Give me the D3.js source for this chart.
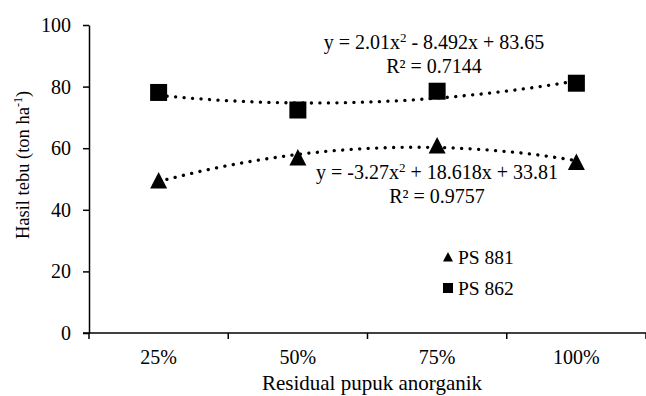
<!DOCTYPE html>
<html lang="en">
<head>
	<meta charset="utf-8">
	<title>Hasil tebu</title>
	<style>
		body { margin: 0; background: #fff; }
		.axis path, .axis line { stroke: #000; stroke-width: 1.5px; }
	</style>
</head>
<body>
	<svg></svg>
	<script src="https://d3js.org/d3.v7.min.js"></script>
	<script>
		(function() {

			var width = 646,
				height = 396;

			var font = "Liberation Serif";

			// data
			var categories = ["25%", "50%", "75%", "100%"];
			var ps881 = [49.5, 57.0, 60.9, 55.5];
			var ps862 = [78.1, 72.4, 78.5, 81.1];
			var yTicks = [0, 20, 40, 60, 80, 100];

			// polynomial trendlines (c2, c1, c0) as printed
			var fit881 = [-3.27, 18.618, 33.81];
			var fit862 = [2.01, -8.492, 83.65];

			var margin = { top: 25, right: 0, bottom: 63, left: 89 };

			var svg = d3.select("svg")
				.attr("width", width)
				.attr("height", height)
				.attr("font-family", font);

			var x = d3.scaleBand()
				.domain(categories)
				.range([margin.left, width - margin.right]);

			// numeric x (1..4) for trendlines
			var xn = d3.scaleLinear()
				.domain([0.5, 4.5])
				.range([margin.left, width - margin.right]);

			var y = d3.scaleLinear()
				.domain([0, 100])
				.range([height - margin.bottom, margin.top]);

			// y axis
			svg.append("g")
				.attr("class", "axis")
				.attr("transform", "translate(" + margin.left + ",0)")
				.call(d3.axisLeft(y).tickValues(yTicks).tickSize(6).tickSizeOuter(0))
				.attr("font-family", font)
				.call(function(g) {
					g.selectAll("text").attr("font-size", 20).attr("x", -18).attr("fill", "#000");
				});

			// x axis with ticks at band boundaries
			var xAxis = svg.append("g")
				.attr("class", "axis")
				.attr("transform", "translate(0," + y(0) + ")");
			xAxis.append("line")
				.attr("x1", margin.left - 6).attr("x2", width)
				.attr("y1", 0).attr("y2", 0);
			xAxis.selectAll(".tk")
				.data(d3.range(categories.length + 1))
				.enter().append("line")
				.attr("x1", function(i) { return margin.left + i * x.bandwidth(); })
				.attr("x2", function(i) { return margin.left + i * x.bandwidth(); })
				.attr("y1", 0).attr("y2", 6);
			xAxis.selectAll("text")
				.data(categories)
				.enter().append("text")
				.attr("x", function(d) { return x(d) + x.bandwidth() / 2; })
				.attr("y", 31)
				.attr("text-anchor", "middle")
				.attr("font-size", 20)
				.text(function(d) { return d; });

			// axis titles
			svg.append("text")
				.attr("x", 372)
				.attr("y", 390)
				.attr("text-anchor", "middle")
				.attr("font-size", 21)
				.text("Residual pupuk anorganik");

			var yl = svg.append("text")
				.attr("transform", "translate(29,165) rotate(-90)")
				.attr("text-anchor", "middle")
				.attr("font-size", 18.5);
			yl.append("tspan").text("Hasil tebu (ton ha");
			yl.append("tspan").attr("font-size", 12).attr("dy", -7).text("-1");
			yl.append("tspan").attr("dy", 7).text(")");

			// trendlines
			function poly(c) {
				return function(t) { return c[0] * t * t + c[1] * t + c[2]; };
			}
			var line = d3.line()
				.x(function(t) { return xn(t); });

			[fit862, fit881].forEach(function(c) {
				var f = poly(c);
				svg.append("path")
					.datum(d3.range(1, 4.001, 0.02))
					.attr("fill", "none")
					.attr("stroke", "#000")
					.attr("stroke-width", 3.3)
					.attr("stroke-linecap", "round")
					.attr("stroke-dasharray", "0.1 8.4")
					.attr("d", line.y(function(t) { return y(f(t)); }));
			});

			// markers
			var tri = "M0,-8.5L8.5,8L-8.5,8Z";

			svg.append("g")
				.selectAll("rect")
				.data(ps862)
				.enter().append("rect")
				.attr("x", function(d, i) { return x(categories[i]) + x.bandwidth() / 2 - 8.5; })
				.attr("y", function(d) { return y(d) - 8.5; })
				.attr("width", 17)
				.attr("height", 17)
				.attr("fill", "#000");

			svg.append("g")
				.selectAll("path")
				.data(ps881)
				.enter().append("path")
				.attr("d", tri)
				.attr("transform", function(d, i) {
					return "translate(" + (x(categories[i]) + x.bandwidth() / 2) + "," + y(d) + ")";
				})
				.attr("fill", "#000");

			// equations
			function eq(g, cx, by, parts, r2) {
				var t = g.append("text")
					.attr("x", cx).attr("y", by)
					.attr("text-anchor", "middle")
					.attr("font-size", 20);
				t.append("tspan").text(parts[0]);
				t.append("tspan").attr("font-size", 13).attr("dy", -7).text("2");
				t.append("tspan").attr("dy", 7).text(parts[1]);
				g.append("text")
					.attr("x", cx).attr("y", by + 24)
					.attr("text-anchor", "middle")
					.attr("font-size", 20)
					.text(r2);
			}
			eq(svg, 434, 49, ["y = 2.01x", " - 8.492x + 83.65"], "R² = 0.7144");
			eq(svg, 437, 179, ["y = -3.27x", " + 18.618x + 33.81"], "R² = 0.9757");

			// legend
			var legend = svg.append("g");
			legend.append("path")
				.attr("d", "M0,-5L5,4.5L-5,4.5Z")
				.attr("transform", "translate(448,257)");
			legend.append("rect")
				.attr("x", 443).attr("y", 283)
				.attr("width", 10).attr("height", 10);
			legend.append("text")
				.attr("x", 458).attr("y", 264)
				.attr("font-size", 19.5)
				.text("PS 881");
			legend.append("text")
				.attr("x", 458).attr("y", 295)
				.attr("font-size", 19.5)
				.text("PS 862");

		})();
	</script>
</body>
</html>
